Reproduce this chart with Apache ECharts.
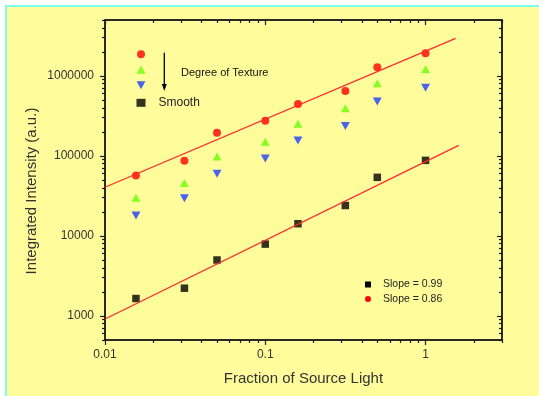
<!DOCTYPE html>
<html>
<head>
<meta charset="utf-8">
<script src="https://cdn.jsdelivr.net/npm/echarts@6/dist/echarts.min.js"></script>
<style>
  html, body { margin: 0; padding: 0; background: #ffffff; }
  #panel {
    position: absolute; left: 5px; top: 5px; width: 534px; height: 391px;
    box-sizing: border-box; background: #FFFC9B;
    border-left: 2px solid #80FFE8; border-top: 2px solid #80FFE8;
  }
  #chart { position: absolute; left: 0; top: 0; width: 539px; height: 396px; }
</style>
</head>
<body>
<div id="panel"></div>
<div id="chart"></div>
<script>
  // fraction of source light (x) for every measured point
  const xFrac = [0.0156, 0.0313, 0.05, 0.1, 0.16, 0.316, 0.5, 1];
  // integrated intensity, most textured -> smooth
  const redVals = [57000, 87000, 195000, 275000, 445000, 650000, 1280000, 1920000];
  const greenVals = [30000, 46000, 98000, 150000, 252000, 395000, 810000, 1210000];
  const blueVals = [18000, 29500, 60000, 93000, 156000, 236000, 480000, 710000];
  const blackVals = [1650, 2220, 5000, 7900, 14200, 24000, 54000, 88000];
  // fitted lines (end points)
  const fitRedX = [0.01, 1.54];
  const fitRedY = [40600, 2940000];
  const fitBlackX = [0.01, 1.61];
  const fitBlackY = [915, 135500];
  // ticks
  const xMajor = [0.01, 0.1, 1];
  const xMinor = [0.02, 0.03, 0.04, 0.05, 0.06, 0.07, 0.08, 0.09,
    0.2, 0.3, 0.4, 0.5, 0.6, 0.7, 0.8, 0.9, 2, 3];
  const yMajor = [1000, 10000, 100000, 1000000];
  const yMinor = [500, 600, 700, 800, 900,
    2000, 3000, 4000, 5000, 6000, 7000, 8000, 9000,
    20000, 30000, 40000, 50000, 60000, 70000, 80000, 90000,
    200000, 300000, 400000, 500000, 600000, 700000, 800000, 900000,
    2000000, 3000000, 4000000, 5000000];

  const pair = (xs, ys) => xs.map((x, i) => [x, ys[i]]);
  const font = '"Liberation Sans", Arial, sans-serif';
  const frameColor = '#1c1c1c';
  const downTri = 'path://M0,0 L10,0 L5,9 Z';

  const chart = echarts.init(document.getElementById('chart'));

  const xBase = {
    type: 'log', min: 0.01, max: 3, splitLine: { show: false },
    axisLine: { show: true, onZero: false, lineStyle: { color: frameColor, width: 1.5 } },
    axisLabel: { show: false }, minorTick: { show: false }
  };
  const yBase = {
    type: 'log', min: 500, max: 5000000, splitLine: { show: false },
    axisLine: { show: true, onZero: false, lineStyle: { color: frameColor, width: 1.5 } },
    axisLabel: { show: false }, minorTick: { show: false }
  };
  const tick = (vals, len, inside) => ({
    show: true, inside: inside, length: len, customValues: vals,
    lineStyle: { color: frameColor, width: 1.2 }
  });

  const option = {
    backgroundColor: 'transparent',
    animation: false,
    textStyle: { fontFamily: font },
    grid: { left: 105, right: 37, top: 20, bottom: 56, outerBoundsMode: 'none' },
    xAxis: [
      Object.assign({}, xBase, {
        position: 'bottom', axisTick: tick(xMajor, 5, false),
        axisLabel: {
          show: true, customValues: xMajor, margin: 9, fontSize: 12, color: '#333', fontFamily: font,
          formatter: v => String(+(+v).toPrecision(3))
        },
        name: 'Fraction of Source Light', nameLocation: 'middle', nameGap: 31, nameMoveOverlap: false,
        nameTextStyle: { fontSize: 15, color: '#333', fontFamily: font }
      }),
      Object.assign({}, xBase, { position: 'bottom', axisTick: tick(xMinor, 3, false) }),
      Object.assign({}, xBase, { position: 'top', axisTick: tick(xMajor, 5, true) }),
      Object.assign({}, xBase, { position: 'top', axisTick: tick(xMinor, 3, true) })
    ],
    yAxis: [
      Object.assign({}, yBase, {
        position: 'left', axisTick: tick(yMajor, 5, false),
        axisLabel: {
          show: true, customValues: yMajor, margin: 11, fontSize: 12, color: '#333', fontFamily: font,
          formatter: v => String(Math.round(v))
        },
        name: 'Integrated Intensity (a.u.)', nameLocation: 'middle', nameGap: 66, nameMoveOverlap: false,
        nameTextStyle: { fontSize: 15, color: '#333', fontFamily: font, padding: [0, 22, 0, 0] }
      }),
      Object.assign({}, yBase, { position: 'left', axisTick: tick(yMinor, 3, false) }),
      Object.assign({}, yBase, { position: 'right', axisTick: tick(yMajor, 5, true) }),
      Object.assign({}, yBase, { position: 'right', axisTick: tick(yMinor, 3, true) })
    ],
    legend: [
      {
        orient: 'vertical', left: 131.5, top: 45.3, itemWidth: 9, itemHeight: 8, itemGap: 7.5,
        data: ['Texture 3', 'Texture 2', 'Texture 1', 'Smooth'],
        formatter: n => (n === 'Smooth' ? n : ''),
        textStyle: { fontSize: 12, lineHeight: 8, color: '#222', fontFamily: font, padding: [0, 0, 0, 8] },
        selectedMode: false
      },
      {
        orient: 'vertical', left: 360, top: 274, itemWidth: 6, itemHeight: 6, itemGap: 3.4,
        data: [
          { name: 'Slope = 0.99', icon: 'rect', itemStyle: { color: '#000' } },
          { name: 'Slope = 0.86', icon: 'circle', itemStyle: { color: '#FF0000' } }
        ],
        textStyle: { fontSize: 10.5, lineHeight: 6, color: '#222', fontFamily: font, padding: [0, 0, 0, 7] },
        selectedMode: false
      }
    ],
    graphic: [
      {
        type: 'text', left: 181, top: 67, z: 10,
        style: { text: 'Degree of Texture', fontSize: 11, fill: '#111', fontFamily: font }
      },
      {
        type: 'line', z: 10,
        shape: { x1: 164.3, y1: 52.7, x2: 164.3, y2: 86 },
        style: { stroke: '#000', lineWidth: 1.3 }
      },
      {
        type: 'polygon', z: 10,
        shape: { points: [[161.8, 84], [166.8, 84], [164.3, 91]] },
        style: { fill: '#000' }
      }
    ],
    series: [
      { name: 'Texture 3', type: 'scatter', data: pair(xFrac, redVals),
        symbol: 'circle', symbolSize: 8, itemStyle: { color: '#FF0000' } },
      { name: 'Texture 2', type: 'scatter', data: pair(xFrac, greenVals),
        symbol: 'triangle', symbolSize: [9, 8], itemStyle: { color: '#66FF00' } },
      { name: 'Texture 1', type: 'scatter', data: pair(xFrac, blueVals),
        symbol: downTri, symbolSize: [9, 8], itemStyle: { color: '#1E3CFF' } },
      { name: 'Smooth', type: 'scatter', data: pair(xFrac, blackVals),
        symbol: 'rect', symbolSize: 7.5, itemStyle: { color: '#000' } },
      { name: 'Slope = 0.99', type: 'line', data: pair(fitBlackX, fitBlackY), z: 3,
        symbol: 'none', lineStyle: { color: '#FF2A2A', width: 1.3 }, itemStyle: { color: '#000' } },
      { name: 'Slope = 0.86', type: 'line', data: pair(fitRedX, fitRedY), z: 3,
        symbol: 'none', lineStyle: { color: '#FF2A2A', width: 1.3 }, itemStyle: { color: '#FF0000' } }
    ]
  };

  chart.setOption(option);
</script>
</body>
</html>
